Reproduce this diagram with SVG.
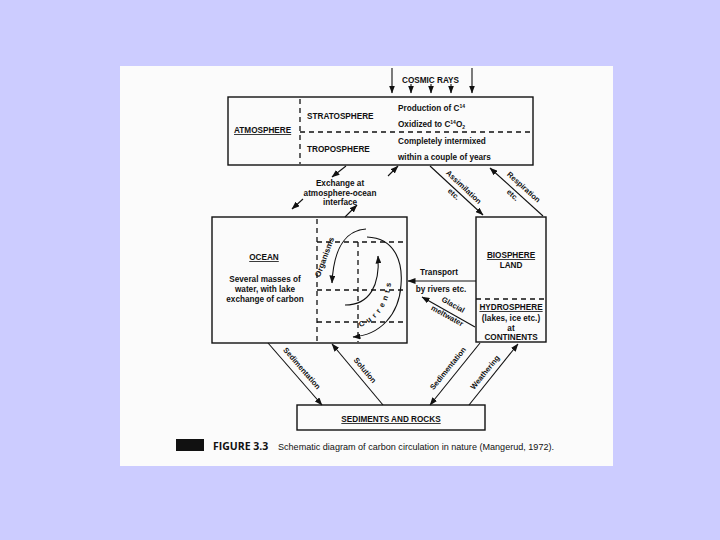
<svg xmlns="http://www.w3.org/2000/svg" width="720" height="540" viewBox="0 0 720 540">
<defs>
<marker id="ah" viewBox="0 0 8 6" refX="7.5" refY="3" markerWidth="8" markerHeight="6" markerUnits="userSpaceOnUse" orient="auto">
<path d="M0,0 L8,3 L0,6 z" fill="#111"/>
</marker>
</defs>
<style>
.box{fill:none;stroke:#111;stroke-width:1.4}
.dash{fill:none;stroke:#111;stroke-width:1.3;stroke-dasharray:5,4}
.ln{fill:none;stroke:#111;stroke-width:1.1;marker-end:url(#ah)}
.t{font-family:"Liberation Sans",Arial,sans-serif;font-weight:bold;font-size:8.2px;fill:#111}
.c{text-anchor:middle}
.u{text-decoration:underline}
.lab{font-family:"Liberation Sans",Arial,sans-serif;font-weight:bold;font-size:7.6px;fill:#111;text-anchor:middle}
</style>
<rect x="0" y="0" width="720" height="540" fill="#ccccff"/>
<rect x="120" y="66" width="493" height="400" fill="#fbfbfb"/>

<g id="cosmic">
<text class="t" x="402" y="83">COSMIC RAYS</text>
</g>

<g id="atmosphere">
<rect class="box" x="228" y="97" width="305" height="68"/>
<line class="dash" x1="300" y1="99" x2="300" y2="164"/>
<line class="dash" x1="300" y1="132" x2="533" y2="132"/>
<text class="t u" x="234" y="133">ATMOSPHERE</text>
<text class="t" x="307" y="119">STRATOSPHERE</text>
<text class="t" x="307" y="152">TROPOSPHERE</text>
<text class="t" x="398" y="111">Production of C<tspan font-size="5" dy="-3">14</tspan></text>
<text class="t" x="398" y="127">Oxidized to C<tspan font-size="5" dy="-3">14</tspan><tspan dy="3">O</tspan><tspan font-size="5" dy="2">2</tspan></text>
<text class="t" x="398" y="144">Completely intermixed</text>
<text class="t" x="398" y="160">within a couple of years</text>
</g>

<g id="ocean">
<rect class="box" x="212" y="217" width="195" height="126"/>
<line class="dash" x1="317" y1="219" x2="317" y2="342"/>
<line class="dash" x1="317" y1="242" x2="407" y2="242"/>
<line class="dash" x1="317" y1="290" x2="407" y2="290"/>
<line class="dash" x1="317" y1="322" x2="407" y2="322"/>
<line class="dash" x1="358" y1="242" x2="358" y2="342"/>
<text class="t c u" x="264" y="260">OCEAN</text>
<text class="t c" x="265" y="282">Several masses of</text>
<text class="t c" x="265" y="292">water, with lake</text>
<text class="t c" x="265" y="302">exchange of carbon</text>
<path class="ln" d="M366,229 C350,230 334,242 332,283"/>
<path class="ln" d="M345,305 C370,305 380,285 378,256"/>
<path class="ln" d="M367,237 C395,238 403,262 401,285 C399,315 380,335 353,337"/>
<text class="lab" style="font-size:8px" transform="translate(327,258) rotate(-70)">Organisms</text>
<path id="cur" d="M360,327 C383,318 393,298 392,262" fill="none"/>
<text class="lab" style="text-anchor:start;letter-spacing:3.6px"><textPath href="#cur">Currents</textPath></text>
</g>

<g id="biosphere">
<rect class="box" x="476" y="217" width="70" height="125"/>
<line class="dash" x1="476" y1="299" x2="546" y2="299"/>
<text class="t c u" x="511" y="258">BIOSPHERE</text>
<text class="t c" x="511" y="268">LAND</text>
<text class="t c u" x="511" y="310">HYDROSPHERE</text>
<text class="t c" x="511" y="321">(lakes, ice etc.)</text>
<text class="t c" x="511" y="331">at</text>
<text class="t c" x="511" y="340">CONTINENTS</text>
</g>

<g id="sediments">
<rect class="box" x="297" y="405" width="188" height="25"/>
<text class="t c u" x="391" y="422">SEDIMENTS AND ROCKS</text>
</g>

<g id="connectors">
<line class="ln" x1="392" y1="68" x2="392" y2="93"/>
<line class="ln" x1="472" y1="68" x2="472" y2="93"/>
<line class="ln" x1="411" y1="84" x2="411" y2="93"/>
<line class="ln" x1="431" y1="84" x2="431" y2="93"/>
<line class="ln" x1="451" y1="84" x2="451" y2="93"/>
<line class="ln" x1="346" y1="166" x2="332" y2="177"/>
<line class="ln" x1="388" y1="176" x2="398" y2="166"/>
<line class="ln" x1="303" y1="199" x2="292" y2="209"/>
<line class="ln" x1="345" y1="217" x2="357" y2="205"/>
<text class="t c" x="340" y="186">Exchange at</text>
<text class="t c" x="340" y="196">atmosphere-ocean</text>
<text class="t c" x="340" y="205">interface</text>
<line class="ln" x1="430" y1="166" x2="483" y2="215"/>
<text class="lab" transform="translate(462,189) rotate(43)">Assimilation</text>
<text class="lab" transform="translate(452,196) rotate(43)">etc.</text>
<line class="ln" x1="543" y1="216" x2="490" y2="168"/>
<text class="lab" transform="translate(522,189) rotate(42)">Respiration</text>
<text class="lab" transform="translate(511,197) rotate(42)">etc.</text>
<line class="ln" x1="476" y1="281" x2="408" y2="281"/>
<text class="t c" x="439" y="275">Transport</text>
<text class="t c" x="441" y="292">by rivers etc.</text>
<line class="ln" x1="475" y1="327" x2="422" y2="297"/>
<text class="lab" transform="translate(452,307) rotate(29)">Glacial</text>
<text class="lab" transform="translate(446,318) rotate(29)">meltwater</text>
<line class="ln" x1="268" y1="343" x2="322" y2="405"/>
<text class="lab" transform="translate(300,370) rotate(49)">Sedimentation</text>
<line class="ln" x1="383" y1="405" x2="332" y2="344"/>
<text class="lab" transform="translate(363,372) rotate(50)">Solution</text>
<line class="ln" x1="480" y1="343" x2="430" y2="405"/>
<text class="lab" transform="translate(450,370) rotate(-51)">Sedimentation</text>
<line class="ln" x1="469" y1="405" x2="518" y2="344"/>
<text class="lab" transform="translate(487,374) rotate(-51)">Weathering</text>
</g>

<g id="caption">
<rect x="176" y="439" width="28" height="12" fill="#111"/>
<text x="213" y="450" font-family="'Open Sans','Liberation Sans',sans-serif" font-weight="bold" font-size="10.5" fill="#111">FIGURE 3.3</text>
<text x="278" y="450" font-family="'Liberation Sans',sans-serif" font-size="8.6" fill="#111" textLength="276" lengthAdjust="spacingAndGlyphs">Schematic diagram of carbon circulation in nature (Mangerud, 1972).</text>
</g>
</svg>
